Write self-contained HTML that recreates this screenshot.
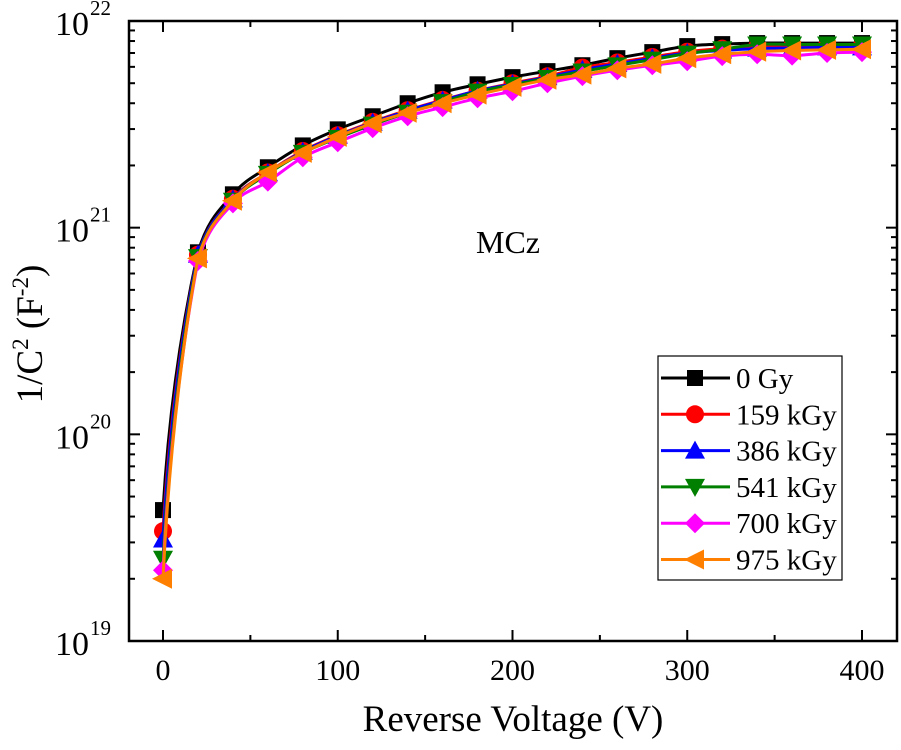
<!DOCTYPE html>
<html><head><meta charset="utf-8"><style>
body{margin:0;background:#fff;}
svg{display:block;font-family:"Liberation Serif",serif;}
</style></head><body>
<svg id="chart" width="901" height="750" xmlns="http://www.w3.org/2000/svg"></svg>
<script>
const voltages=[0,20,40,60,80,100,120,140,160,180,200,220,240,260,280,300,320,340,360,380,400];
const s0=[4.3e19,7.6e20,1.45e21,1.96e21,2.5e21,2.99e21,3.46e21,4.0e21,4.52e21,4.94e21,5.35e21,5.72e21,6.11e21,6.61e21,7.07e21,7.56e21,7.73e21,7.82e21,7.82e21,7.82e21,7.82e21];
const s159=[3.4e19,7.4e20,1.38e21,1.85e21,2.35e21,2.8e21,3.25e21,3.7e21,4.15e21,4.6e21,5.0e21,5.4e21,5.95e21,6.3e21,6.7e21,7.1e21,7.35e21,7.5e21,7.55e21,7.6e21,7.6e21];
const s386=[3.1e19,7.4e20,1.37e21,1.84e21,2.33e21,2.78e21,3.22e21,3.68e21,4.12e21,4.6e21,4.95e21,5.35e21,5.8e21,6.2e21,6.6e21,7.0e21,7.2e21,7.35e21,7.4e21,7.45e21,7.45e21];
const s541=[2.5e19,7.2e20,1.35e21,1.82e21,2.3e21,2.72e21,3.15e21,3.6e21,4.05e21,4.55e21,4.9e21,5.3e21,5.7e21,6.1e21,6.5e21,6.95e21,7.3e21,7.7e21,7.7e21,7.7e21,7.7e21];
const s700=[2.2e19,6.9e20,1.31e21,1.67e21,2.19e21,2.59e21,3.03e21,3.46e21,3.83e21,4.23e21,4.57e21,5.0e21,5.41e21,5.78e21,6.11e21,6.39e21,6.76e21,6.9e21,6.8e21,7.0e21,7.07e21];
const s975=[2.0e19,7.1e20,1.35e21,1.85e21,2.3e21,2.75e21,3.2e21,3.6e21,4.0e21,4.4e21,4.8e21,5.2e21,5.5e21,5.9e21,6.2e21,6.6e21,6.9e21,7.1e21,7.2e21,7.25e21,7.3e21];
const seriesNames=["0 Gy","159 kGy","386 kGy","541 kGy","700 kGy","975 kGy"];
const xTicks=[0,100,200,300,400];
const yDecades=[19,20,21,22];

const NS="http://www.w3.org/2000/svg";
const svg=document.getElementById('chart');
const L=129,R=897,T=21,B=641;
const X=v=>163+v*(862-163)/400;
const Y=v=>B-(Math.log10(v)-19)*(B-T)/3;
function el(t,a,p){const e=document.createElementNS(NS,t);for(const k in a)e.setAttribute(k,a[k]);(p||svg).appendChild(e);return e;}

const colors=["#000000","#ff0000","#0000ff","#007f00","#ff00ff","#ff8000"];
const markers=["square","circle","up","down","diamond","left"];
const allS=[s0,s159,s386,s541,s700,s975];

function marker(g,type,x,y,c){
  let m;
  if(type==="square")m=el('rect',{x:x-8,y:y-8,width:16,height:16,fill:c},g);
  else if(type==="circle")m=el('circle',{cx:x,cy:y,r:9,fill:c},g);
  else{
    let p;
    if(type==="up")p=[[x,y-10],[x+10,y+8],[x-10,y+8]];
    if(type==="down")p=[[x,y+10],[x+10,y-8],[x-10,y-8]];
    if(type==="diamond")p=[[x,y-10],[x+10,y],[x,y+10],[x-10,y]];
    if(type==="left")p=[[x-11,y],[x+9,y-10],[x+9,y+10]];
    m=el('polygon',{points:p.map(q=>q.join(',')).join(' '),fill:c},g);
  }
  return m;
}
function smoothPath(pts){
  let d=`M${pts[0][0]},${pts[0][1]}`;
  for(let i=0;i<pts.length-1;i++){
    const p0=pts[Math.max(0,i-1)],p1=pts[i],p2=pts[i+1],p3=pts[Math.min(pts.length-1,i+2)];
    const c1=[p1[0]+(p2[0]-p0[0])/6,p1[1]+(p2[1]-p0[1])/6];
    const c2=[p2[0]-(p3[0]-p1[0])/6,p2[1]-(p3[1]-p1[1])/6];
    if(i===0){c1[0]=p1[0]+(p2[0]-p1[0])*0.2;c1[1]=p1[1]+(p2[1]-p1[1])*0.45;}
    if(i===1){c1[0]=p1[0]+(p2[0]-p1[0])*0.3;c1[1]=p1[1]+(p2[1]-p1[1])*0.6;}
    d+=` C${c1[0]},${c1[1]} ${c2[0]},${c2[1]} ${p2[0]},${p2[1]}`;
  }
  return d;
}
allS.forEach((s,i)=>{
  const g=el('g',{});
  
  
  const pts=voltages.map((v,j)=>[X(v),Y(s[j])]);
  const line=el('path',{d:smoothPath(pts),fill:'none',stroke:colors[i],'stroke-width':3},g);
  
  
  pts.forEach(p=>{
    const m=marker(g,markers[i],p[0],p[1],colors[i]);
    
    
  });
});

const frame=el('rect',{x:L,y:T,width:R-L,height:B-T,fill:'none',stroke:'#000','stroke-width':2.5});


for(let v=0;v<=400;v+=50){
  const major=v%100===0,len=major?11:6;
  el('line',{x1:X(v),x2:X(v),y1:B,y2:B-len,stroke:'#000','stroke-width':2});
  el('line',{x1:X(v),x2:X(v),y1:T,y2:T+len,stroke:'#000','stroke-width':2});
}
xTicks.forEach(v=>{
  const t=el('text',{x:X(v),y:680,'text-anchor':'middle','font-size':30});
  t.textContent=v;
  
  
});
for(let d=19;d<22;d++)for(let k=1;k<=9;k++){
  const y=Y(k*Math.pow(10,d)),len=k===1?11:6;
  el('line',{x1:L,x2:L+len,y1:y,y2:y,stroke:'#000','stroke-width':2});
  el('line',{x1:R,x2:R-len,y1:y,y2:y,stroke:'#000','stroke-width':2});
}
yDecades.forEach(d=>{
  const t=el('text',{x:89,y:Y(Math.pow(10,d))+14,'text-anchor':'end','font-size':34});
  t.textContent='10';
  
  
  const e=el('text',{x:90,y:Y(Math.pow(10,d))-6,'font-size':21});
  e.textContent=d;
  
  
});
const xl=el('text',{x:513,y:731,'text-anchor':'middle','font-size':37});
xl.textContent='Reverse Voltage (V)';


const yl=el('text',{transform:'translate(42,334) rotate(-90)','text-anchor':'middle','font-size':37});
yl.innerHTML='1/C<tspan dy="-14" font-size="23">2</tspan><tspan dy="14"> (F</tspan><tspan dy="-14" font-size="23">-2</tspan><tspan dy="14">)</tspan>';


const mc=el('text',{x:508,y:253,'text-anchor':'middle','font-size':32});
mc.textContent='MCz';


const lg=el('g',{});


el('rect',{x:658,y:356,width:184,height:224,fill:'#fff',stroke:'#000','stroke-width':1.2},lg);
seriesNames.forEach((n,i)=>{
  const y=378+i*36.3;
  const g=el('g',{},lg);
  
  
  el('line',{x1:661,x2:730,y1:y,y2:y,stroke:colors[i],'stroke-width':3},g);
  marker(g,markers[i],695,y,colors[i]);
  const t=el('text',{x:736,y:y+10,'font-size':29},g);
  t.textContent=n;
});
</script>
</body></html>
